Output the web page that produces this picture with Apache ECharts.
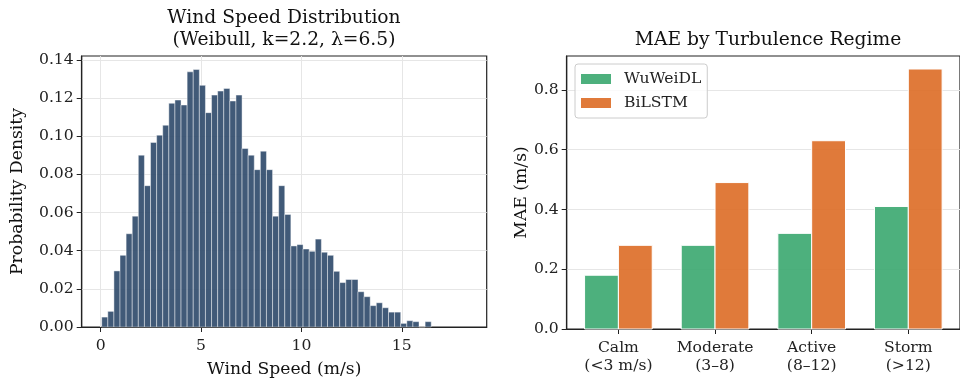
<!DOCTYPE html>
<html>
<head>
<meta charset="utf-8">
<script src="https://cdn.jsdelivr.net/npm/echarts@6/dist/echarts.min.js"></script>
<style>
html,body{margin:0;padding:0;background:#fff;}
#chart{width:960px;height:383px;}
</style>
</head>
<body>
<div id="chart"></div>
<script>
// ---- Left panel: histogram of wind speed (density per bin) ----
const binStart = 0.05;
const binWidth = 0.304;
const density = [
  0.0052, 0.0082, 0.0294, 0.0376, 0.0489, 0.0581, 0.0901, 0.0741, 0.0968, 0.1006,
  0.1058, 0.1173, 0.1190, 0.1164, 0.1338, 0.1350, 0.1267, 0.1124, 0.1216, 0.1237,
  0.1251, 0.1185, 0.1216, 0.0936, 0.0901, 0.0825, 0.0922, 0.0825, 0.0581, 0.0741,
  0.0590, 0.0425, 0.0432, 0.0409, 0.0397, 0.0461, 0.0392, 0.0376, 0.0292, 0.0233,
  0.0249, 0.0249, 0.0185, 0.0159, 0.0112, 0.0127, 0.0101, 0.0078, 0.0078, 0.0019,
  0.0033, 0.0028, 0, 0.0028
];
const histXTicks = [0, 5, 10, 15];
const histYTicks = [0, 0.02, 0.04, 0.06, 0.08, 0.10, 0.12, 0.14];

// ---- Right panel: MAE by regime ----
const regimes = ['Calm\n(<3 m/s)', 'Moderate\n(3–8)', 'Active\n(8–12)', 'Storm\n(>12)'];
const wuweidl = [0.18, 0.28, 0.32, 0.41];
const bilstm = [0.28, 0.49, 0.63, 0.87];
const maeYTicks = [0, 0.2, 0.4, 0.6, 0.8];

const FONT = 'DejaVu Serif';
const histData = density.map((d, i) => [binStart + i * binWidth, binStart + (i + 1) * binWidth, d]);

function histItem(params, api) {
  const p0 = api.coord([api.value(0), api.value(2)]);
  const p1 = api.coord([api.value(1), 0]);
  return {
    type: 'rect',
    shape: {x: p0[0], y: p0[1], width: p1[0] - p0[0], height: p1[1] - p0[1]},
    style: {fill: 'rgba(44,72,105,0.9)', stroke: 'rgba(255,255,255,0.55)', lineWidth: 0.8}
  };
}
const barW = 0.35;
function groupItem(offset, color) {
  return function (params, api) {
    const i = api.value(0);
    const c = i + offset;
    const p0 = api.coord([c - barW / 2, api.value(1)]);
    const p1 = api.coord([c + barW / 2, 0]);
    return {
      type: 'rect',
      shape: {x: p0[0], y: p0[1], width: p1[0] - p0[0], height: p1[1] - p0[1]},
      style: {fill: color, stroke: '#ffffff', lineWidth: 1}
    };
  };
}
const GREEN = 'rgba(58,167,111,0.9)';
const ORANGE = 'rgba(221,108,37,0.9)';

const axisText = {color: '#222', fontFamily: FONT, fontSize: 15.6};
const gridLine = {show: true, lineStyle: {color: '#e6e6e6', width: 1}};
const nameText = {fontFamily: FONT, fontSize: 17.2, color: '#111'};
const titleFont = '18.7px "DejaVu Serif"';

const chart = echarts.init(document.getElementById('chart'), null, {renderer: 'canvas'});
chart.setOption({
  animation: false,
  backgroundColor: '#fff',
  graphic: [
    {type: 'text', x: 284, y: 18, style: {text: 'Wind Speed Distribution', font: titleFont, fill: '#111', align: 'center', verticalAlign: 'middle'}},
    {type: 'text', x: 284, y: 40, style: {text: '(Weibull, k=2.2, λ=6.5)', font: titleFont, fill: '#111', align: 'center', verticalAlign: 'middle'}},
    {type: 'text', x: 768, y: 40, style: {text: 'MAE by Turbulence Regime', font: titleFont, fill: '#111', align: 'center', verticalAlign: 'middle'}}
  ],
  legend: {
    data: ['WuWeiDL', 'BiLSTM'],
    orient: 'vertical',
    left: 575, top: 64,
    itemWidth: 30, itemHeight: 10, itemGap: 6,
    padding: [6, 6, 6, 6],
    icon: 'rect',
    borderColor: '#cccccc', borderWidth: 1, borderRadius: 3,
    backgroundColor: 'rgba(255,255,255,0.8)',
    textStyle: {fontFamily: FONT, fontSize: 15.6, color: '#222', padding: [0, 0, 0, 8], lineHeight: 18}
  },
  grid: [
    {left: 81.7, top: 56, width: 405, height: 272.7, show: true, borderColor: '#222', borderWidth: 1.2, backgroundColor: 'transparent'},
    {left: 566.7, top: 56, width: 403.3, height: 273, show: true, borderColor: '#222', borderWidth: 1.2, backgroundColor: 'transparent'}
  ],
  xAxis: [
    {
      type: 'value', gridIndex: 0, min: -0.947, max: 19.23,
      axisLine: {show: true, onZero: false, lineStyle: {color: '#222', width: 1.2}},
      axisTick: {show: true, length: 5, customValues: histXTicks, lineStyle: {color: '#222'}},
      axisLabel: {customValues: histXTicks, ...axisText, margin: 11},
      splitLine: gridLine,
      name: 'Wind Speed (m/s)', nameLocation: 'middle', nameGap: 34,
      nameTextStyle: nameText
    },
    {
      type: 'value', gridIndex: 1, min: -0.535, max: 3.535,
      axisLine: {show: true, onZero: false, lineStyle: {color: '#222', width: 1.2}},
      axisTick: {show: true, length: 5, customValues: [0, 1, 2, 3], lineStyle: {color: '#222'}},
      axisLabel: {customValues: [0, 1, 2, 3], ...axisText, lineHeight: 18, margin: 10,
        formatter: v => regimes[Math.round(v)]},
      splitLine: {show: false}
    }
  ],
  yAxis: [
    {
      type: 'value', gridIndex: 0, min: 0, max: 0.1421,
      axisLine: {show: true, onZero: false, lineStyle: {color: '#222', width: 1.2}},
      axisTick: {show: true, length: 5, customValues: histYTicks, lineStyle: {color: '#222'}},
      axisLabel: {customValues: histYTicks, ...axisText, margin: 8, formatter: v => v.toFixed(2)},
      splitLine: gridLine,
      name: 'Probability Density', nameLocation: 'middle', nameGap: 56,
      nameTextStyle: nameText
    },
    {
      type: 'value', gridIndex: 1, min: 0, max: 0.9135,
      axisLine: {show: true, onZero: false, lineStyle: {color: '#222', width: 1.2}},
      axisTick: {show: true, length: 5, customValues: maeYTicks, lineStyle: {color: '#222'}},
      axisLabel: {customValues: maeYTicks, ...axisText, margin: 8, formatter: v => v.toFixed(1)},
      splitLine: gridLine,
      name: 'MAE (m/s)', nameLocation: 'middle', nameGap: 37,
      nameTextStyle: nameText
    }
  ],
  series: [
    {type: 'custom', name: 'hist', xAxisIndex: 0, yAxisIndex: 0, data: histData, renderItem: histItem,
      encode: {x: [0, 1], y: 2}},
    {type: 'custom', name: 'WuWeiDL', xAxisIndex: 1, yAxisIndex: 1, itemStyle: {color: GREEN},
      data: wuweidl.map((v, i) => [i, v]), renderItem: groupItem(-0.175, GREEN), encode: {x: 0, y: 1}},
    {type: 'custom', name: 'BiLSTM', xAxisIndex: 1, yAxisIndex: 1, itemStyle: {color: ORANGE},
      data: bilstm.map((v, i) => [i, v]), renderItem: groupItem(0.175, ORANGE), encode: {x: 0, y: 1}}
  ]
});
</script>
</body>
</html>
